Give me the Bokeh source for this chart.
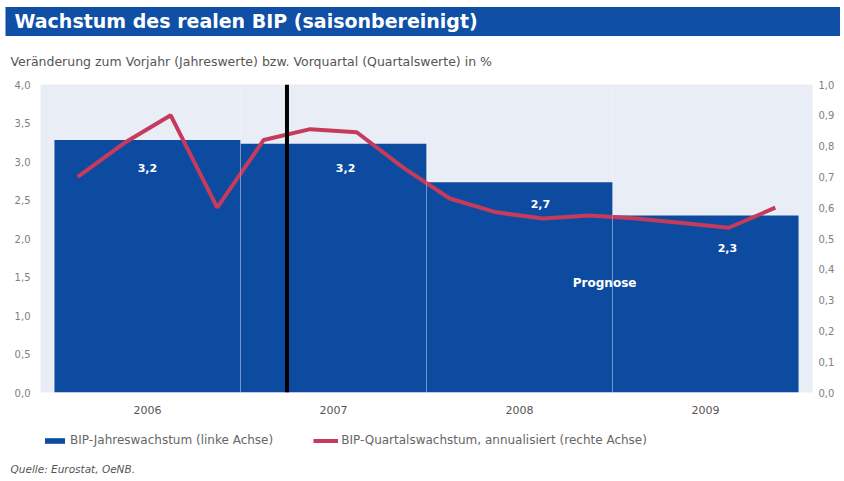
from bokeh.plotting import figure
from bokeh.layouts import column
from bokeh.models import (Range1d, LinearAxis, FixedTicker, Span, Label, Title,
                          Legend, LegendItem, ColumnDataSource)
from bokeh.core.properties import value
from bokeh.embed import file_html
from bokeh.resources import INLINE

# ---------------- data ----------------
years = ["2006", "2007", "2008", "2009"]
annual_growth = [3.28, 3.23, 2.73, 2.30]          # left axis, %
annual_labels = ["3,2", "3,2", "2,7", "2,3"]
quarterly_growth = [0.70, 0.81, 0.90, 0.60,        # right axis, %
                    0.82, 0.855, 0.845, 0.73,
                    0.63, 0.585, 0.565, 0.575,
                    0.565, 0.55, 0.535, 0.60]
left_ticks = [0.0, 0.5, 1.0, 1.5, 2.0, 2.5, 3.0, 3.5, 4.0]
left_tick_labels = ["0,0", "0,5", "1,0", "1,5", "2,0", "2,5", "3,0", "3,5", "4,0"]
right_ticks = [0.0, 0.1, 0.2, 0.3, 0.4, 0.5, 0.6, 0.7, 0.8, 0.9, 1.0]
right_tick_labels = ["0,0", "0,1", "0,2", "0,3", "0,4", "0,5", "0,6", "0,7", "0,8", "0,9", "1,0"]
forecast_start_quarter = 5   # boundary after Q1 2007

# ---------------- styling ----------------
FONT = "DejaVu Sans"
BLUE = "#0d4ba0"
BANNER = "#0f4fa6"
RED = "#c63a5c"
GRAY = "#808080"
TEXT = "#555555"

W = 840
L, R, T, B = 40, 28, 84, 28
FRAME_H = 308
MAIN_H = T + FRAME_H + B
FOOT_H = 476 - MAIN_H

p = figure(width=W, height=MAIN_H, output_backend="svg", toolbar_location=None,
           x_range=Range1d(-0.3, 16.3), y_range=Range1d(0, 4),
           min_border_left=L, min_border_right=R, min_border_top=T, min_border_bottom=B,
           background_fill_color="#e8edf6", border_fill_color="white",
           outline_line_color=None)
p.extra_y_ranges = {"q": Range1d(0, 1)}

# quarters as x units: year i spans [4i, 4i+4]
bar_x = [4 * i + 2 for i in range(len(years))]
q_x = [i + 0.5 for i in range(len(quarterly_growth))]

bars = p.vbar(x=bar_x, top=annual_growth, bottom=0, width=4,
              fill_color=BLUE, line_color=None)
line = p.line(x=q_x, y=quarterly_growth, y_range_name="q",
              line_color=RED, line_width=4)

# value labels inside bars
label_dx = [0.0, 0.26, 0.45, 0.47]
label_dy = [0.36, 0.31, 0.28, 0.42]
lab_src = ColumnDataSource(dict(
    x=[bx + dx for bx, dx in zip(bar_x, label_dx)],
    y=[v - dy for v, dy in zip(annual_growth, label_dy)],
    t=annual_labels))
p.text(x="x", y="y", text="t", source=lab_src, text_color="white",
       text_font=value(FONT), text_font_style="bold", text_font_size="11px",
       text_align="center", text_baseline="middle")

p.add_layout(Label(x=11.83, y=1.42, text="Prognose", text_color="white",
                   text_font=FONT, text_font_style="bold", text_font_size="12px",
                   text_align="center", text_baseline="middle"))

p.add_layout(Span(location=forecast_start_quarter, dimension="height",
                  line_color="black", line_width=4))

# axes
p.xaxis.ticker = FixedTicker(ticks=bar_x)
p.xaxis.major_label_overrides = {bx: y for bx, y in zip(bar_x, years)}
p.xaxis.axis_line_color = None
p.xaxis.major_tick_line_color = None
p.xaxis.minor_tick_line_color = None
p.xaxis.major_tick_out = 0
p.xaxis.major_tick_in = 0
p.xaxis.major_label_standoff = 13
p.xaxis.major_label_text_font = FONT
p.xaxis.major_label_text_font_size = "11px"
p.xaxis.major_label_text_color = TEXT

p.yaxis.ticker = FixedTicker(ticks=left_ticks)
p.yaxis.major_label_overrides = dict(zip(left_ticks, left_tick_labels))
right_axis = LinearAxis(y_range_name="q")
right_axis.ticker = FixedTicker(ticks=right_ticks)
right_axis.major_label_overrides = dict(zip(right_ticks, right_tick_labels))
p.add_layout(right_axis, "right")
for ax, so in ((p.yaxis[0], 10), (right_axis, 6)):
    ax.axis_line_color = None
    ax.major_tick_line_color = None
    ax.minor_tick_line_color = None
    ax.major_tick_out = 0
    ax.major_tick_in = 0
    ax.major_label_standoff = so
    ax.major_label_text_font = FONT
    ax.major_label_text_font_size = "10px"
    ax.major_label_text_color = GRAY

p.xgrid.ticker = FixedTicker(ticks=[4, 8, 12])
p.xgrid.grid_line_color = "white"
p.xgrid.grid_line_alpha = 0.25
p.xgrid.level = "overlay"
p.ygrid.grid_line_color = None

# header: subtitle (closest to the frame) and banner title
p.add_layout(Title(text="Veränderung zum Vorjahr (Jahreswerte) bzw. Vorquartal (Quartalswerte) in %",
                   align="left", offset=-30, standoff=31,
                   text_font=FONT, text_font_style="normal", text_font_size="12.5px",
                   text_color=TEXT), "above")
p.add_layout(Title(text="Wachstum des realen BIP (saisonbereinigt)",
                   align="left", offset=-35, standoff=1,
                   text_font=FONT, text_font_style="bold", text_font_size="19px",
                   text_color="white", background_fill_color=BANNER, background_fill_alpha=1,
                   padding=dict(left=9, right=400, top=3, bottom=4)), "above")

# ---------------- footer: legend and source ----------------
foot = figure(width=W, height=FOOT_H, output_backend="svg", toolbar_location=None,
              x_axis_location=None, y_axis_location=None,
              min_border_left=L, min_border_right=R, min_border_top=0, min_border_bottom=16,
              outline_line_color=None, background_fill_color="white",
              border_fill_color="white", x_range=Range1d(0, 1), y_range=Range1d(0, 1))
foot.xgrid.visible = False
foot.ygrid.visible = False
# legend keys styled like the chart's series (no visible geometry of their own)
nan = float("nan")
bar_key = foot.vbar(x=[nan], top=[nan], width=1, fill_color=BLUE, line_color=None)
line_key = foot.line(x=[nan, nan], y=[nan, nan], line_color=RED, line_width=4)
legend = Legend(items=[LegendItem(label="BIP-Jahreswachstum (linke Achse)", renderers=[bar_key]),
                       LegendItem(label="BIP-Quartalswachstum, annualisiert (rechte Achse)", renderers=[line_key])],
                location=(2, 13), orientation="horizontal",
                glyph_width=25, glyph_height=7, label_standoff=3, spacing=40,
                padding=0, margin=0, border_line_color=None, background_fill_alpha=0,
                label_text_font=FONT, label_text_font_size="12px", label_text_color="#666666")
foot.add_layout(legend)
foot.add_layout(Title(text="Quelle: Eurostat, OeNB.", align="left", offset=-30, standoff=0,
                      text_font=FONT, text_font_style="italic", text_font_size="10.5px",
                      text_color=TEXT), "below")

page = column(p, foot, spacing=0)
open("out.html", "w").write(file_html(page, INLINE))
